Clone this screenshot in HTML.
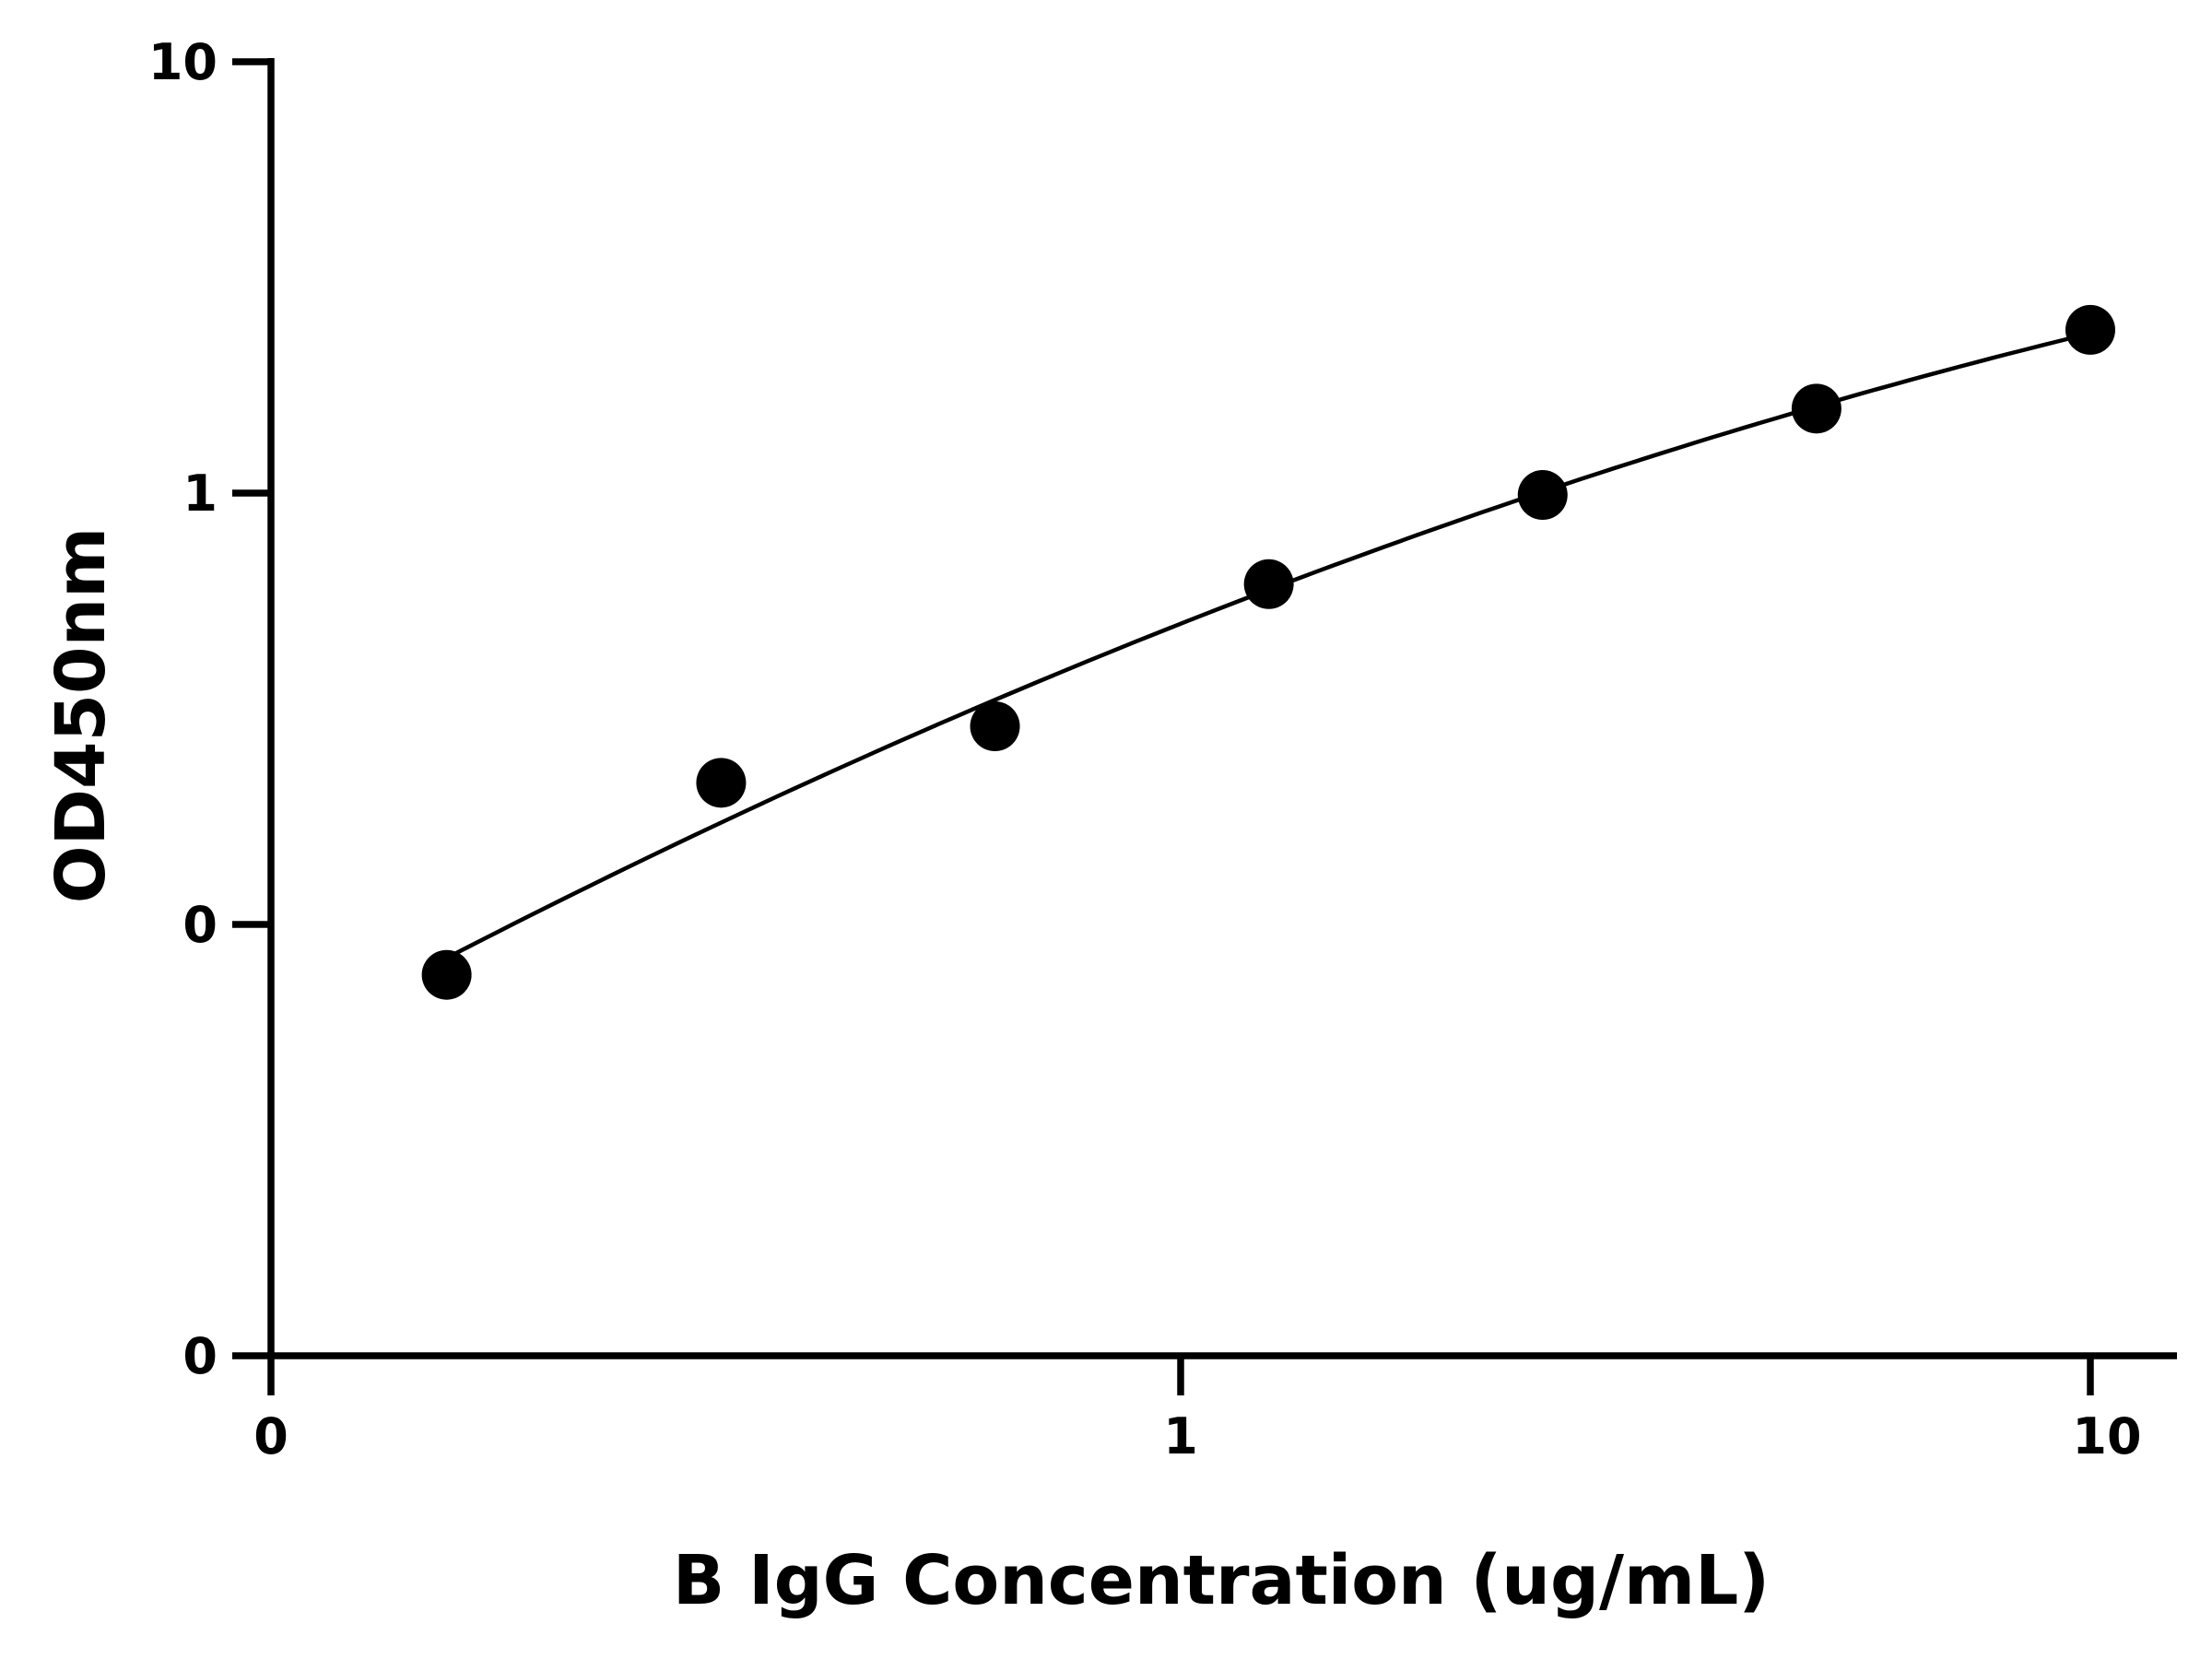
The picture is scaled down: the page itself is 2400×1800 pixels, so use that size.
<!DOCTYPE html>
<html><head><meta charset="utf-8"><style>
html,body{margin:0;padding:0;background:#fff;}
svg{display:block;font-family:"DejaVu Sans","Liberation Sans",sans-serif;font-weight:bold;}
</style></head><body>
<svg id="chart" width="2400" height="1800" viewBox="0 0 2400 1800"></svg>
<script>
const xValues = [0.156, 0.3125, 0.625, 1.25, 2.5, 5, 10];
const yValues = [0.0764, 0.213, 0.288, 0.615, 0.99, 1.57, 2.39];
const xTickValues = [0.1, 1, 10];
const xTickLabels = ["0", "1", "10"];
const yTickValues = [0.01, 0.1, 1, 10];
const yTickLabels = ["0", "0", "1", "10"];

const NS = "http://www.w3.org/2000/svg";
const svg = document.getElementById("chart");
const X0 = 294, X1 = 1281; // 0.1 -> X0, 1 -> X1
const Y0 = 1471, DEC = 468; // 0.01 -> Y0, per decade
function sx(v){ return X0 + (Math.log10(v) + 1) * (X1 - X0); }
function sy(v){ return Y0 - (Math.log10(v) + 2) * DEC; }
function mk(tag, attrs){ const e = document.createElementNS(NS, tag); for (const k in attrs) e.setAttribute(k, attrs[k]); svg.appendChild(e); return e; }

// axes
let e = mk("line", {x1:294, y1:63, x2:294, y2:1475, stroke:"#000", "stroke-width":7.5});


e = mk("line", {x1:290, y1:1471, x2:2362, y2:1471, stroke:"#000", "stroke-width":7.5});



yTickValues.forEach((v, i) => {
  const y = sy(v);
  const t = mk("line", {x1:252, y1:y, x2:294, y2:y, stroke:"#000", "stroke-width":7.5});
  
  
  const l = mk("text", {x:236, y:y + 19, "text-anchor":"end", "font-size":54});
  l.textContent = yTickLabels[i];
  
  
});
xTickValues.forEach((v, i) => {
  const x = sx(v);
  const t = mk("line", {x1:x, y1:1471, x2:x, y2:1514, stroke:"#000", "stroke-width":7.5});
  
  
  const l = mk("text", {x:x + (i === 2 ? 18 : 0), y:1577, "text-anchor":"middle", "font-size":54});
  l.textContent = xTickLabels[i];
  
  
});

// fitted curve: quadratic fit in log-log space
const lx = xValues.map(Math.log10), ly = yValues.map(Math.log10);
let S = [0,0,0,0,0], T = [0,0,0];
lx.forEach((a, i) => { for (let k = 0; k < 5; k++) S[k] += Math.pow(a, k); for (let k = 0; k < 3; k++) T[k] += Math.pow(a, k) * ly[i]; });
const M = [[S[0],S[1],S[2],T[0]],[S[1],S[2],S[3],T[1]],[S[2],S[3],S[4],T[2]]];
for (let c = 0; c < 3; c++) { for (let r = 0; r < 3; r++) if (r !== c) { const f = M[r][c] / M[c][c]; for (let k = 0; k < 4; k++) M[r][k] -= f * M[c][k]; } }
const co = [M[0][3]/M[0][0], M[1][3]/M[1][1], M[2][3]/M[2][2]];
let d = "";
const a0 = lx[0], a1 = lx[lx.length - 1];
for (let i = 0; i <= 100; i++) {
  const a = a0 + (a1 - a0) * i / 100;
  const b = co[0] + co[1] * a + co[2] * a * a;
  d += (i ? "L" : "M") + sx(Math.pow(10, a)).toFixed(1) + "," + sy(Math.pow(10, b)).toFixed(1);
}
e = mk("path", {d:d, fill:"none", stroke:"#000", "stroke-width":4.5});



xValues.forEach((v, i) => {
  const c = mk("circle", {cx:sx(v), cy:sy(yValues[i]), r:27, fill:"#000"});
  
  
});

e = mk("text", {x:1325, y:1740, "text-anchor":"middle", "font-size":74});
e.textContent = "B IgG Concentration (ug/mL)";


e = mk("text", {x:0, y:0, "text-anchor":"middle", "font-size":74, transform:"translate(113,776) rotate(-90)"});
e.textContent = "OD450nm";


</script>
</body></html>
